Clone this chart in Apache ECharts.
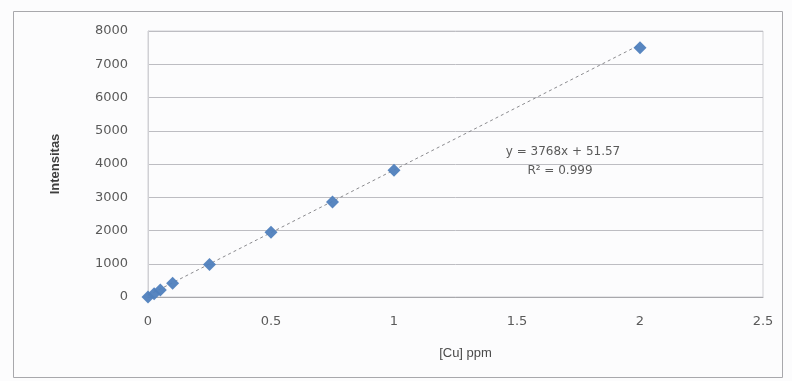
<!DOCTYPE html>
<html><head><meta charset="utf-8">
<script src="https://cdn.jsdelivr.net/npm/echarts@6/dist/echarts.min.js"></script>
<style>html,body{margin:0;padding:0;background:#fcfcfd;}#c{width:792px;height:381px;}</style>
</head><body><div id="c"></div>
<script>
const concX = [0, 0.025, 0.05, 0.1, 0.25, 0.5, 0.75, 1, 2];
const intensity = [0, 100, 210, 410, 980, 1950, 2860, 3810, 7500];
const trendX = [0, 2];
const trendY = [52, 7588];
const xTicks = [0, 0.5, 1, 1.5, 2, 2.5];
const yTicks = [0, 1000, 2000, 3000, 4000, 5000, 6000, 7000, 8000];
const eqText = 'y = 3768x + 51.57';
const r2Text = 'R² = 0.999';

const chart = echarts.init(document.getElementById('c'), null, {renderer: 'canvas'});
const txt = '#5a5a5a';
chart.setOption({
  animation: false,
  backgroundColor: '#fcfcfd',
  grid: {left: 148, right: 29, top: 31, bottom: 84, containLabel: false, outerBoundsMode: 'none', show: true, borderColor: '#d0d0d4', borderWidth: 1, backgroundColor: 'transparent'},
  xAxis: {
    type: 'value', min: xTicks[0], max: xTicks[xTicks.length - 1], interval: 0.5,
    name: '[Cu] ppm', nameLocation: 'middle', nameGap: 50,
    nameTextStyle: {color: '#4a4a4a', fontSize: 13, fontFamily: 'Liberation Sans', padding: [0, 0, 0, 20]},
    axisLine: {show: true, onZero: false, lineStyle: {color: '#a8a8ac'}},
    axisTick: {show: false},
    splitLine: {show: false},
    axisLabel: {color: txt, fontSize: 13, fontFamily: 'DejaVu Sans', margin: 18, formatter: v => String(v)}
  },
  yAxis: {
    type: 'value', min: 0, max: yTicks[yTicks.length - 1], interval: 1000,
    name: 'Intensitas', nameLocation: 'middle', nameGap: 74, nameRotate: 90,
    nameTextStyle: {color: '#3f3f3f', fontSize: 13, fontWeight: 'bold', fontFamily: 'Liberation Sans', padding: [0, 0, 12, 0]},
    axisLine: {show: true, lineStyle: {color: '#d0d0d4'}},
    axisTick: {show: false},
    splitLine: {show: true, lineStyle: {color: '#bdbdc2', width: 1}},
    axisLabel: {color: txt, fontSize: 13, fontFamily: 'DejaVu Sans', margin: 20, formatter: v => String(v)}
  },
  series: [
    {
      type: 'line', data: trendX.map((x, i) => [x, trendY[i]]),
      symbol: 'none', lineStyle: {color: '#8a8a8e', width: 1, type: [3, 3]}, z: 2
    },
    {
      type: 'scatter', data: concX.map((x, i) => [x, intensity[i]]),
      symbol: 'diamond', symbolSize: [13, 13],
      itemStyle: {color: '#4f7fbd', opacity: 0.95}, z: 3
    }
  ],
  graphic: [
    {type: 'rect', shape: {x: 13.5, y: 11.5, width: 769, height: 366}, style: {fill: 'none', stroke: '#a8a8ac', lineWidth: 1}, silent: true},
    {type: 'text', x: 563, y: 152, style: {text: eqText, fill: txt, font: '12px "DejaVu Sans"', align: 'center', verticalAlign: 'middle'}},
    {type: 'text', x: 560, y: 171, style: {text: r2Text, fill: txt, font: '12px "DejaVu Sans"', align: 'center', verticalAlign: 'middle'}}
  ]
});
</script></body></html>
